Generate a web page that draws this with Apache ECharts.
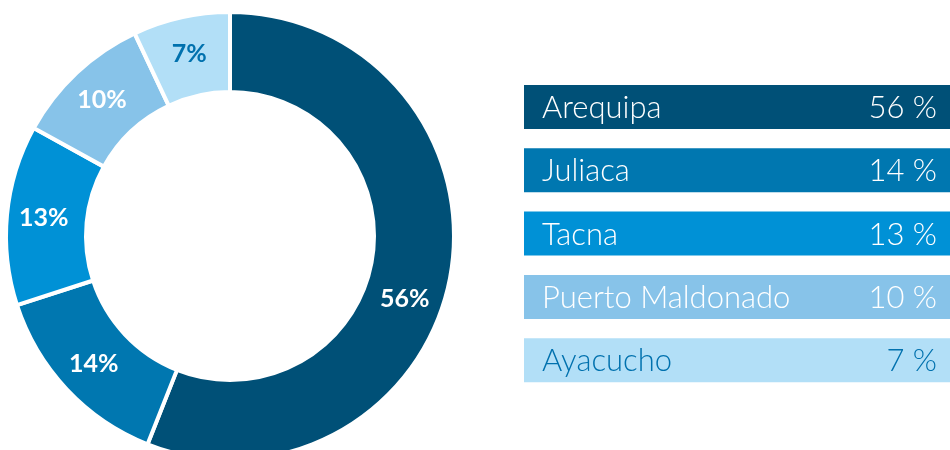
<!DOCTYPE html>
<html>
<head>
<meta charset="utf-8">
<script src="https://cdn.jsdelivr.net/npm/echarts@6/dist/echarts.min.js"></script>
<style>
  html, body { margin: 0; padding: 0; background: #fff; }
  #main { width: 950px; height: 450px; }
</style>
</head>
<body>
<div id="main"></div>
<script>
// datos del gráfico
var cities = ['Arequipa', 'Juliaca', 'Tacna', 'Puerto Maldonado', 'Ayacucho'];
var shares = [56, 14, 13, 10, 7];
var colors = ['#005077', '#0077B0', '#0091D6', '#87C3E9', '#B2DFF7'];
var labelColors = ['#ffffff', '#ffffff', '#ffffff', '#ffffff', '#0071AE'];

var myChart = echarts.init(document.getElementById('main'));

var font = 'Lato';

// leyenda a la derecha: barras de color con nombre y porcentaje
var legendItems = [];
cities.forEach(function (name, i) {
    var top = 85 + i * 63.3;
    legendItems.push({
        type: 'group',
        left: 524,
        top: top,
        children: [
            {
                type: 'rect',
                shape: { x: 0, y: 0, width: 426, height: 44 },
                style: { fill: colors[i] }
            },
            {
                type: 'text',
                x: 18,
                y: 23,
                style: {
                    text: name,
                    fill: labelColors[i],
                    font: '300 31px ' + font,
                    verticalAlign: 'middle'
                }
            },
            {
                type: 'text',
                x: 413,
                y: 23,
                style: {
                    text: shares[i] + ' %',
                    fill: labelColors[i],
                    font: '300 31px ' + font,
                    align: 'right',
                    verticalAlign: 'middle'
                }
            }
        ]
    });
});

var option = {
    animation: false,
    series: [
        {
            type: 'pie',
            center: [230, 236],
            radius: [144, 224],
            startAngle: 90,
            clockwise: true,
            avoidLabelOverlap: false,
            itemStyle: {
                borderColor: '#ffffff',
                borderWidth: 4
            },
            label: {
                show: true,
                position: 'inside',
                formatter: '{c}%',
                fontFamily: font,
                fontWeight: 'bold',
                fontSize: 25
            },
            labelLine: { show: false },
            emphasis: { disabled: true },
            data: cities.map(function (name, i) {
                var item = {
                    name: name,
                    value: shares[i],
                    itemStyle: { color: colors[i] },
                    label: { color: labelColors[i] }
                };
                // la etiqueta grande va algo más abajo en el original
                if (i === 0) item.label.offset = [-9, 28];
                return item;
            })
        }
    ],
    graphic: legendItems
};

myChart.setOption(option);
</script>
</body>
</html>
